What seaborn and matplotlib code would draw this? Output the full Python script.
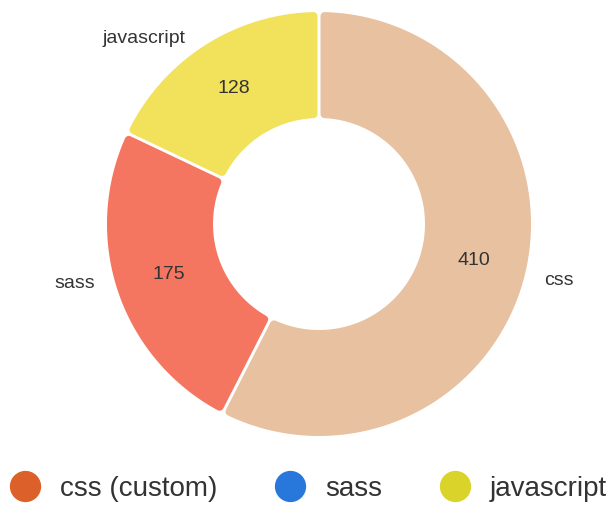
import numpy as np
import matplotlib
matplotlib.use("Agg")
import matplotlib.pyplot as plt
from matplotlib.patches import Polygon
from matplotlib.lines import Line2D
import seaborn as sns

sns.set_theme(style="white")
plt.rcParams['font.family'] = ['Liberation Sans', 'DejaVu Sans']

# data
labels = ["css", "sass", "javascript"]
values = [410, 175, 128]
slice_colors = ["#e8c1a0", "#f47560", "#f1e15b"]
legend_labels = ["css (custom)", "sass", "javascript"]
legend_colors = ["#dc6029", "#2878dc", "#dad32a"]

W, H = 615, 514
fig = plt.figure(figsize=(W / 100, H / 100), dpi=100)
ax = fig.add_axes([0, 0, 1, 1])
ax.set_xlim(0, W)
ax.set_ylim(0, H)
ax.set_aspect("equal")
ax.axis("off")

cx, cy = 319, 290          # centre in pixel units (y up)
r_out, r_in = 212, 106
corner = 4                 # rounded corner radius (px)
gap = 1.5                  # half of white gap between slices (px)
lw_pt = 2 * corner * 0.72

total = sum(values)
angles = [90]
for v in values:
    angles.append(angles[-1] - v / total * 360)


def slice_poly(a_start, a_end):
    ro = r_out - corner
    ri = r_in + corner
    d = gap + corner
    # a_start > a_end (clockwise)
    o1 = np.radians(a_start) - np.arcsin(d / ro)
    o2 = np.radians(a_end) + np.arcsin(d / ro)
    i1 = np.radians(a_start) - np.arcsin(d / ri)
    i2 = np.radians(a_end) + np.arcsin(d / ri)
    t_out = np.linspace(o1, o2, 200)
    t_in = np.linspace(i2, i1, 200)
    xs = np.concatenate([cx + ro * np.cos(t_out), cx + ri * np.cos(t_in)])
    ys = np.concatenate([cy + ro * np.sin(t_out), cy + ri * np.sin(t_in)])
    return np.column_stack([xs, ys])


label_nudge = [0, -4.6, 2.9]   # degrees, outer label placement tweak
for i, (lab, val, col) in enumerate(zip(labels, values, slice_colors)):
    a0, a1 = angles[i], angles[i + 1]
    poly = Polygon(slice_poly(a0, a1), closed=True, facecolor=col,
                   edgecolor=col, linewidth=lw_pt, joinstyle="round")
    ax.add_patch(poly)
    mid = np.radians((a0 + a1) / 2)
    rm = (r_out + r_in) / 2
    ax.text(cx + rm * np.cos(mid), cy + rm * np.sin(mid) + 1, str(val),
            ha="center", va="center", fontsize=14, color="#333333")
    ml = np.radians((a0 + a1) / 2 + label_nudge[i])
    rl = r_out * 1.09
    lx, ly = cx + rl * np.cos(ml), cy + rl * np.sin(ml) - 3
    ax.text(lx, ly, lab, ha="left" if np.cos(ml) > 0 else "right",
            va="center", fontsize=14, color="#333333")

handles = [Line2D([0], [0], marker="o", linestyle="", markersize=21.5,
                  markerfacecolor=c, markeredgecolor=c) for c in legend_colors]
fig.legend(handles, legend_labels, loc="center", ncol=3,
           bbox_to_anchor=(309 / W, 1 - 489 / H), frameon=False,
           fontsize=20, handlelength=1.0, handletextpad=0.76,
           columnspacing=2.12, labelcolor="#333333")

fig.savefig("out.png", dpi=100)
